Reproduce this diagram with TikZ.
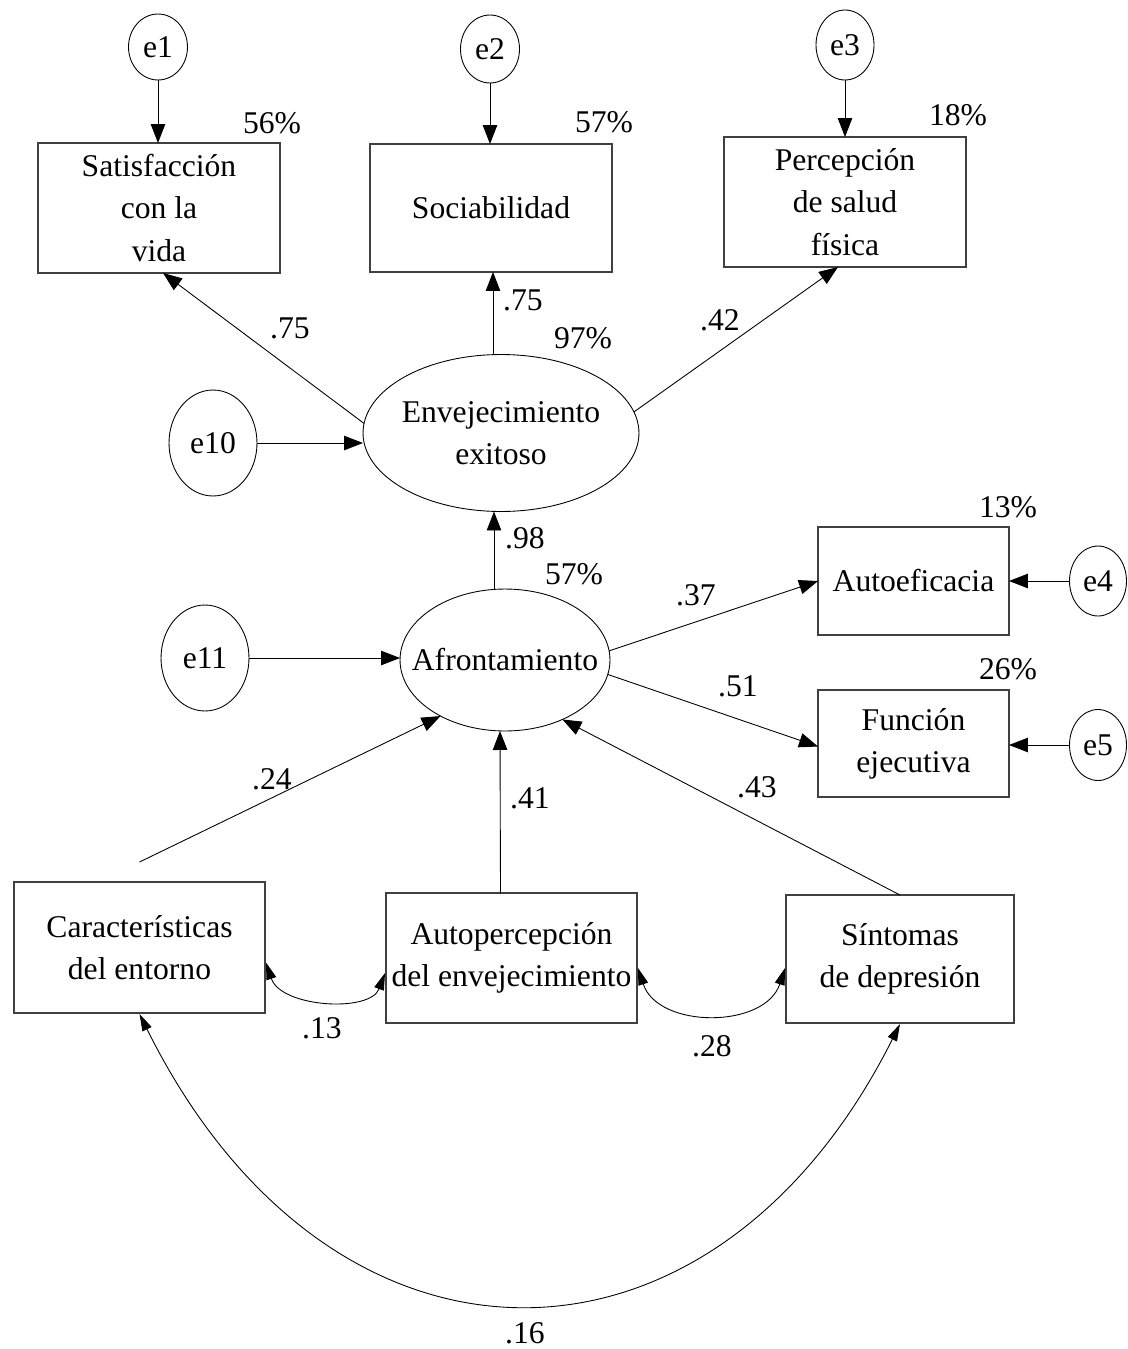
\documentclass[tikz,border=0pt]{standalone}
\usepackage{fontspec}
\setmainfont{Liberation Serif}
\usetikzlibrary{shapes.geometric,arrows.meta,calc}

\tikzset{
  txt/.style={font=\fontsize{18}{24}\selectfont, inner sep=0pt, outer sep=0pt},
  obsbox/.style={txt, draw=black!75, line width=0.8pt, rectangle, align=center,
    minimum width=#1},
  errnode/.style={txt, draw, line width=0.5pt, ellipse},
  latentnode/.style={txt, draw, line width=0.5pt, ellipse},
  path/.style={line width=0.5pt, -{Triangle[length=0.38cm,width=0.29cm]}},
  cov/.style={line width=0.5pt, {Triangle[length=0.34cm,width=0.2cm]}-{Triangle[length=0.34cm,width=0.2cm]}},
  coef/.style={txt},
}

\begin{document}
\begin{tikzpicture}[x=0.02cm, y=-0.02cm]
\useasboundingbox (0,0) rectangle (1128,1349);

% --- error terms ---
\node[errnode, minimum width=1.18cm, minimum height=1.32cm] (e1) at (158,47) {e1};
\node[errnode, minimum width=1.18cm, minimum height=1.36cm] (e2) at (490,49) {e2};
\node[errnode, minimum width=1.16cm, minimum height=1.40cm] (e3) at (845,45) {e3};
\node[errnode, minimum width=1.76cm, minimum height=2.12cm] (e10) at (213,443) {e10};
\node[errnode, minimum width=1.76cm, minimum height=2.12cm] (e11) at (205,658) {e11};
\node[errnode, minimum width=1.14cm, minimum height=1.40cm] (e4) at (1098,581) {e4};
\node[errnode, minimum width=1.14cm, minimum height=1.42cm] (e5) at (1098,745) {e5};

% --- observed variables ---
\node[obsbox=4.84cm, minimum height=2.60cm] (b1) at (159,208) {Satisfacción\\con la\\vida};
\node[obsbox=4.84cm, minimum height=2.56cm] (b2) at (491,208) {Sociabilidad};
\node[obsbox=4.84cm, minimum height=2.60cm] (b3) at (845,202) {Percepción\\de salud\\física};
\node[obsbox=3.82cm, minimum height=2.16cm] (b4) at (913.5,581) {Autoeficacia};
\node[obsbox=3.82cm, minimum height=2.14cm] (b5) at (913.5,743.5) {Función\\ejecutiva};
\node[obsbox=5.02cm, minimum height=2.62cm] (car) at (139.5,947.5) {Características\\del entorno};
\node[obsbox=5.02cm, minimum height=2.60cm] (aut) at (511.5,958) {Autopercepción\\del envejecimiento};
\node[obsbox=4.56cm, minimum height=2.56cm] (sin) at (900,959) {Síntomas\\de depresión};

% --- latent variables ---
\node[latentnode, minimum width=5.52cm, minimum height=3.14cm,
  label={[txt, align=center]center:Envejecimiento\\exitoso}] (env) at (501,433) {};
\node[latentnode, minimum width=4.20cm, minimum height=2.84cm,
  label={[txt]center:Afrontamiento}] (afr) at (505,660) {};

% --- error paths ---
\draw[path] (e1.south) -- (e1.south |- b1.north);
\draw[path] (e2.south) -- (e2.south |- b2.north);
\draw[path] (e3.south) -- (e3.south |- b3.north);
\draw[path] (e10.east) -- (e10.east -| env.west);
\draw[path] (e11.east) -- (e11.east -| afr.west);
\draw[path] (e4.west) -- (e4.west -| b4.east);
\draw[path] (e5.west) -- (e5.west -| b5.east);

% --- structural paths ---
\draw[path] (env.176) -- ($(b1.south)+(4,0)$);
\draw[path] ($(env.north)+(-8,0)$) -- ($(b2.south)+(2,0)$);
\draw[path] (env.9) -- ($(b3.south)+(-7,0)$);
\draw[path] ($(afr.north)+(-11,0)$) -- ($(env.south)+(-7,0)$);
\draw[path] (afr.5) -- (b4.west);
\draw[path] (afr.352) -- ($(b5.west)+(0,3)$);
\coordinate (carfree) at ($(car.north)+(0,-20)$);
\draw[path] (carfree) -- (afr.221);
\draw[path] ($(aut.north)+(-11,0)$) -- ($(afr.south)+(-5,0)$);
\draw[path] (sin.north) -- (afr.314);

% --- covariances ---
\draw[cov] ($(car.east)+(1,15)$) .. controls +(15,45) and +(-15,40) .. ($(aut.west)+(-1,15)$);
\draw[cov] ($(aut.east)+(1,10)$) .. controls +(20,61) and +(-20,61) .. ($(sin.west)+(-1,9)$);
\draw[cov] ($(car.south)+(0,1)$) .. controls +(191,385) and +(-188,375) .. ($(sin.south)+(0,1)$);

% --- explained variance ---
\node[coef] (r1) at (272,123) {56\%};
\node[coef] (r2) at (604,122) {57\%};
\node[coef] (r3) at (958,115) {18\%};
\node[coef] (r4) at (583,338) {97\%};
\node[coef] (r5) at (574,574) {57\%};
\node[coef] (r6) at (1008,507) {13\%};
\node[coef] (r7) at (1008,669) {26\%};

% --- path coefficients ---
\node[coef] (c1) at (290,328) {.75};
\node[coef] (c2) at (523,300) {.75};
\node[coef] (c3) at (720,320) {.42};
\node[coef] (c4) at (525,538) {.98};
\node[coef] (c5) at (696,595) {.37};
\node[coef] (c6) at (738,686) {.51};
\node[coef] (c7) at (272,779) {.24};
\node[coef] (c8) at (530,798) {.41};
\node[coef] (c9) at (757,787) {.43};
\node[coef] (c10) at (322,1028) {.13};
\node[coef] (c11) at (712,1046) {.28};
\node[coef] (c12) at (525,1333) {.16};
\end{tikzpicture}
\end{document}
